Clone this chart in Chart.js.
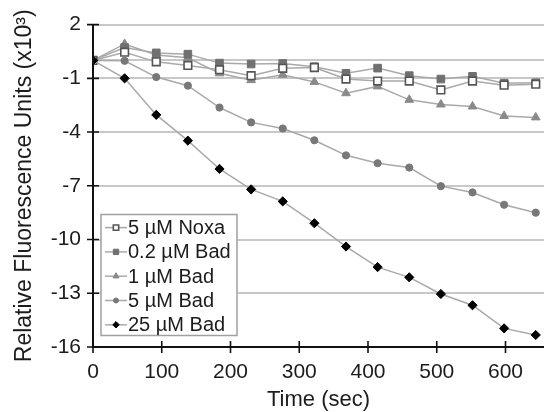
<!DOCTYPE html>
<html>
<head>
<meta charset="utf-8">
<script src="https://cdn.jsdelivr.net/npm/chart.js@4.4.1/dist/chart.umd.min.js"></script>
<style>
  html, body { margin: 0; padding: 0; background: #ffffff; }
  canvas { display: block; }
</style>
</head>
<body>
<canvas id="chart" width="551" height="412"></canvas>
<script>
// Sampling times (sec)
const times = [0, 46, 92, 138, 184, 230, 276, 322, 368, 414, 460, 506, 552, 598, 644];

// Relative fluorescence (x10^3) per treatment
const noxa5 = [0, 0.46, -0.08, -0.28, -0.52, -0.85, -0.44, -0.40, -1.04, -1.15, -1.15, -1.65, -1.15, -1.38, -1.33];
const bad02 = [0, 0.72, 0.42, 0.35, -0.15, -0.20, -0.17, -0.35, -0.72, -0.43, -0.85, -1.04, -0.89, -1.27, -1.25];
const bad1  = [0, 0.92, 0.30, 0.15, -0.72, -1.10, -0.80, -1.20, -1.83, -1.45, -2.20, -2.46, -2.57, -3.10, -3.18];
const bad5  = [0, -0.02, -0.93, -1.41, -2.63, -3.46, -3.80, -4.46, -5.30, -5.74, -5.98, -7.02, -7.37, -8.06, -8.50];
const bad25 = [0, -1.00, -3.04, -4.48, -6.06, -7.20, -7.87, -9.09, -10.39, -11.54, -12.11, -13.04, -13.67, -14.96, -15.33];

const seriesNames = ['5 µM Noxa', '0.2 µM Bad', '1 µM Bad', '5 µM Bad', '25 µM Bad'];

// Axis tick values
const xTicks = [0, 100, 200, 300, 400, 500, 600];
const yTicks = [2, -1, -4, -7, -10, -13, -16];
const yGrid  = [2, 0, -1, -4, -7, -10, -13];

const FONT = '"Liberation Sans", Arial, Helvetica, sans-serif';
const LINE = '#a9a9a9';
const TEXT = '#1c1c1c';

function pts(values) {
  return values.map((v, i) => ({ x: times[i], y: v }));
}

function series(label, values, style, order) {
  return Object.assign({
    label,
    data: pts(values),
    borderColor: LINE,
    borderWidth: 1.5,
    tension: 0,
    order
  }, style);
}

const datasets = [
  series(seriesNames[0], noxa5, { pointStyle: 'rect', pointRadius: 5.4, pointBackgroundColor: '#ffffff', pointBorderColor: '#555555', pointBorderWidth: 1.6 }, 1),
  series(seriesNames[1], bad02, { pointStyle: 'rect', pointRadius: 5.4, pointBackgroundColor: '#707070', pointBorderColor: '#707070', pointBorderWidth: 1 }, 2),
  series(seriesNames[2], bad1,  { pointStyle: 'triangle', pointRadius: 5, pointBackgroundColor: '#8a8a8a', pointBorderColor: '#8a8a8a', pointBorderWidth: 1 }, 3),
  series(seriesNames[3], bad5,  { pointStyle: 'circle', pointRadius: 3.6, pointBackgroundColor: '#787878', pointBorderColor: '#787878', pointBorderWidth: 1 }, 4),
  series(seriesNames[4], bad25, { pointStyle: 'rectRot', pointRadius: 4.6, pointBackgroundColor: '#000000', pointBorderColor: '#000000', pointBorderWidth: 1 }, 0)
];

// Black axes with tick marks that cross the axis line
const axesPlugin = {
  id: 'crossAxes',
  afterDatasetsDraw(chart) {
    const { ctx, chartArea, scales } = chart;
    const xs = scales.x, ys = scales.y;
    const x0 = xs.getPixelForValue(0);
    const yb = ys.getPixelForValue(-16);
    const yt = ys.getPixelForValue(2);
    ctx.save();
    ctx.strokeStyle = '#111111';
    ctx.lineWidth = 2;
    ctx.beginPath();
    ctx.moveTo(x0, yt);
    ctx.lineTo(x0, yb);
    ctx.moveTo(x0 - 1, yb);
    ctx.lineTo(chartArea.right, yb);
    ctx.stroke();
    ctx.lineWidth = 1.6;
    ctx.beginPath();
    yTicks.forEach(v => {
      const y = ys.getPixelForValue(v);
      ctx.moveTo(x0 - 6, y);
      ctx.lineTo(x0 + 6, y);
    });
    xTicks.forEach(v => {
      const x = xs.getPixelForValue(v);
      ctx.moveTo(x, yb - 6);
      ctx.lineTo(x, yb + 6);
    });
    ctx.stroke();
    ctx.restore();
  }
};

// Boxed legend inside the plot area, lower left
const legendPlugin = {
  id: 'boxLegend',
  afterDraw(chart) {
    const { ctx, chartArea } = chart;
    const left = chartArea.left + 8;
    const top = chartArea.top + 190;
    const w = 136, rowH = 24.3, h = 121;
    ctx.save();
    ctx.fillStyle = '#ffffff';
    ctx.strokeStyle = '#a0a0a0';
    ctx.lineWidth = 1.5;
    ctx.beginPath();
    ctx.rect(left, top, w, h);
    ctx.fill();
    ctx.stroke();
    chart.data.datasets.forEach((ds, i) => {
      const cy = top + 13 + i * rowH;
      ctx.strokeStyle = LINE;
      ctx.lineWidth = 1.5;
      ctx.beginPath();
      ctx.moveTo(left + 4, cy);
      ctx.lineTo(left + 26, cy);
      ctx.stroke();
      ctx.fillStyle = ds.pointBackgroundColor;
      ctx.strokeStyle = ds.pointBorderColor;
      ctx.lineWidth = ds.pointBorderWidth;
      Chart.helpers.drawPoint(ctx, {
        pointStyle: ds.pointStyle,
        radius: ds.pointRadius * 0.7,
        rotation: 0,
        borderWidth: ds.pointBorderWidth
      }, left + 15, cy);
      ctx.fillStyle = TEXT;
      ctx.font = '20px ' + FONT;
      ctx.textAlign = 'left';
      ctx.textBaseline = 'middle';
      ctx.fillText(ds.label, left + 27, cy + 1);
    });
    ctx.restore();
  }
};

new Chart(document.getElementById('chart'), {
  type: 'line',
  data: { datasets },
  options: {
    responsive: false,
    devicePixelRatio: 1,
    animation: false,
    layout: { padding: { top: 22, right: 0, bottom: 0, left: 0 } },
    plugins: { legend: { display: false }, tooltip: { enabled: false } },
    scales: {
      x: {
        type: 'linear',
        min: 0,
        max: 656,
        afterBuildTicks: s => { s.ticks = xTicks.map(v => ({ value: v })); },
        afterFit: s => { s.height = 65; },
        grid: { display: false, drawTicks: false },
        border: { display: false },
        ticks: { color: TEXT, font: { family: FONT, size: 21 }, padding: 13, maxRotation: 0 },
        title: { display: true, text: 'Time (sec)', color: TEXT, font: { family: FONT, size: 22, lineHeight: 1 }, padding: { top: 0, bottom: 1 } }
      },
      y: {
        type: 'linear',
        min: -16,
        max: 2,
        afterBuildTicks: s => { s.ticks = yGrid.concat([-16]).map(v => ({ value: v })); },
        afterFit: s => { s.width = 93; },
        grid: {
          drawTicks: false,
          lineWidth: 2,
          color: c => (c.tick && c.tick.value === -16) ? 'rgba(0,0,0,0)' : '#c8c8c8'
        },
        border: { display: false },
        ticks: {
          color: TEXT,
          font: { family: FONT, size: 21 },
          padding: 12,
          callback: v => yTicks.includes(v) ? String(v) : ''
        },
        title: { display: true, text: 'Relative Fluorescence Units (x10³)', color: TEXT, font: { family: FONT, size: 23, lineHeight: 1 }, padding: { top: 13, bottom: 0 } }
      }
    }
  },
  plugins: [axesPlugin, legendPlugin]
});
</script>
</body>
</html>
